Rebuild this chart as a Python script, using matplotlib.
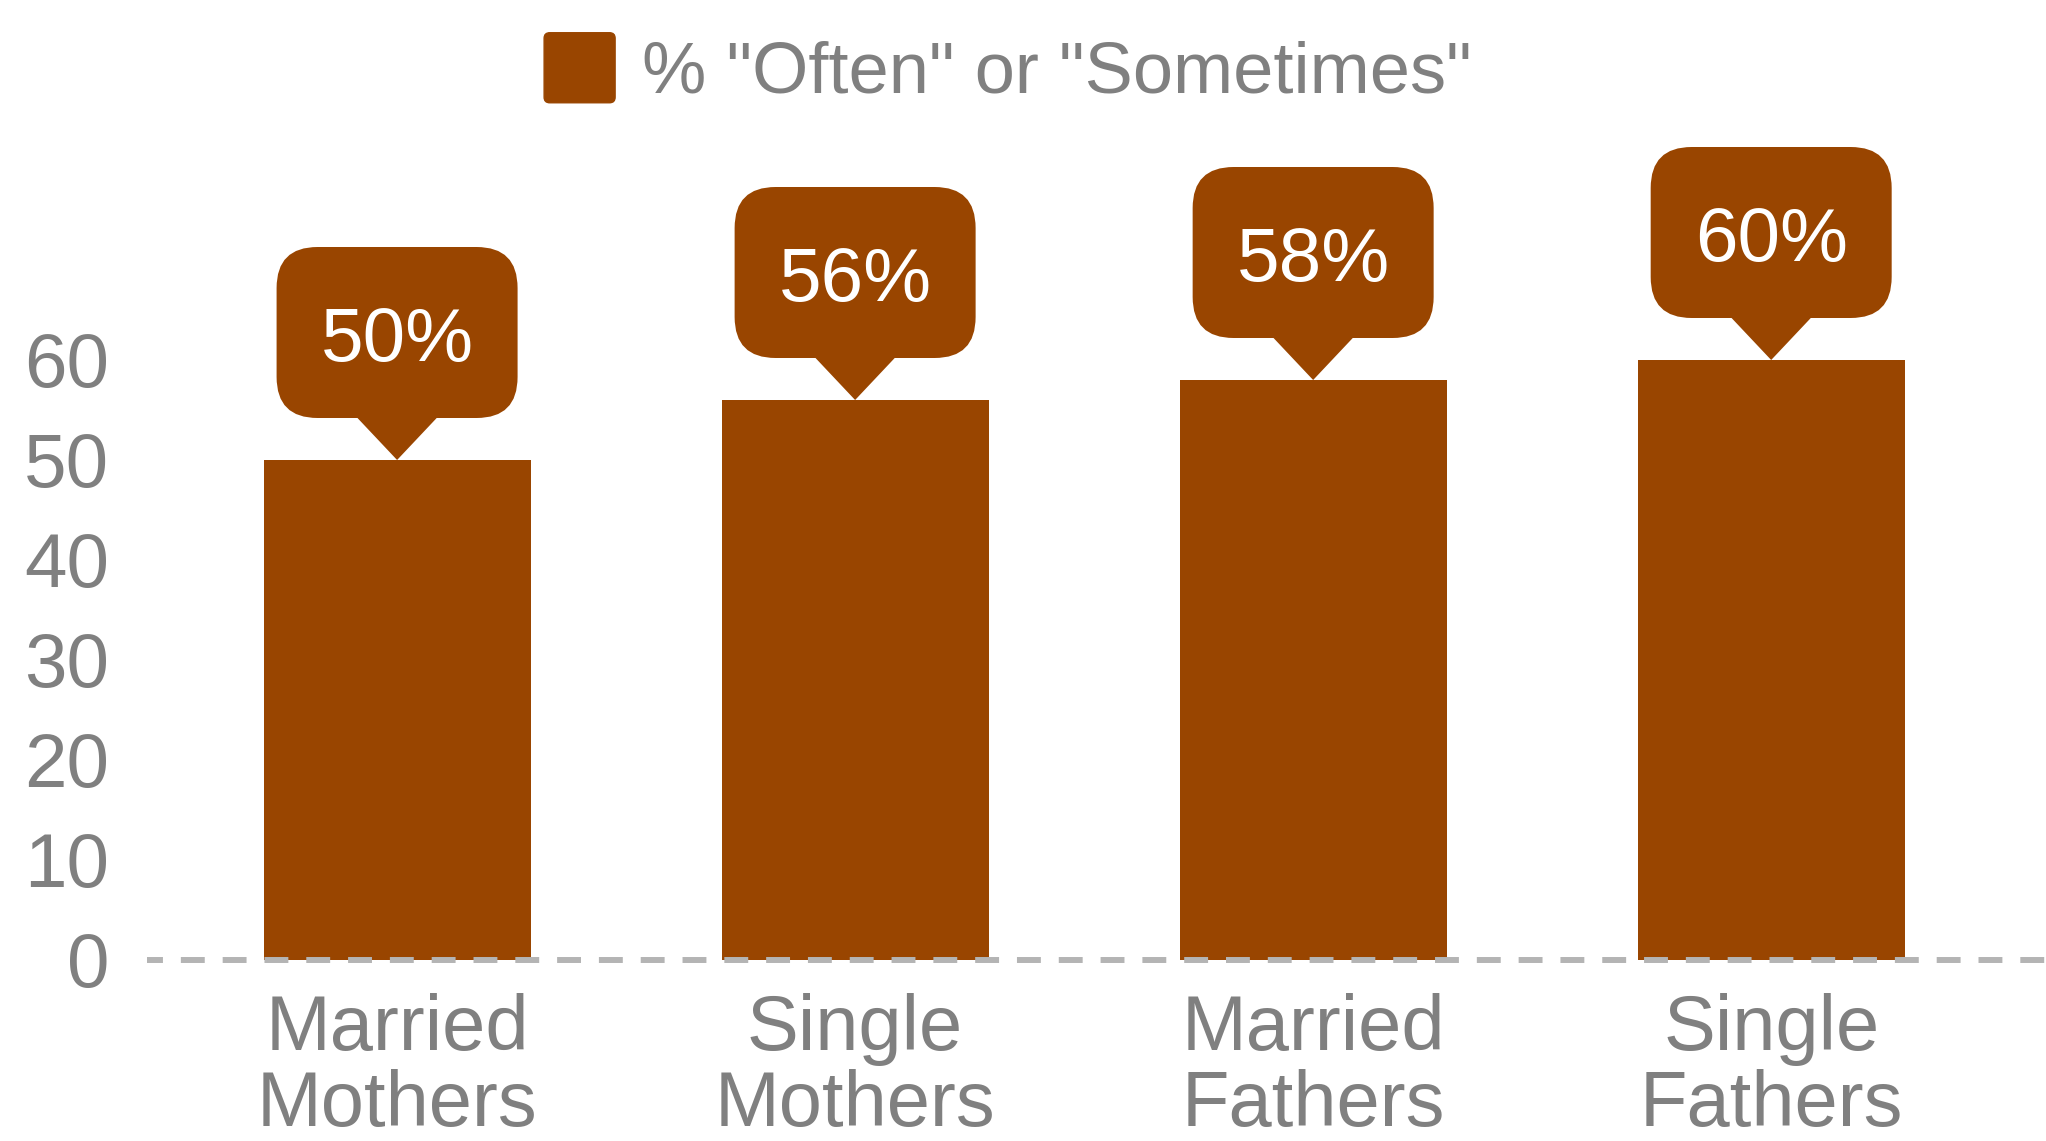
import matplotlib
matplotlib.use('Agg')
import matplotlib.pyplot as plt
import matplotlib.transforms as mtransforms
from matplotlib.patches import FancyBboxPatch, Polygon, Patch
from matplotlib.legend_handler import HandlerPatch

categories = ['Married\nMothers', 'Single\nMothers', 'Married\nFathers', 'Single\nFathers']
values = [50, 56, 58, 60]
yticks = [0, 10, 20, 30, 40, 50, 60]
series_name = '% "Often" or "Sometimes"'

BAR = '#994500'
GREY = '#808080'

plt.rcParams['font.family'] = ['Liberation Sans', 'DejaVu Sans']

fig = plt.figure(figsize=(20.46, 11.41), dpi=100)
ax = fig.add_axes([147 / 2046, 181 / 1141, 1 - 147 / 2046, 860 / 1141])

x = list(range(len(categories)))
bars = ax.bar(x, values, width=0.583, color=BAR, zorder=2)

ax.set_xlim(-0.546, 3.6)
ax.set_ylim(0, 86)
ax.set_yticks(yticks)
ax.set_xticks(x)
ax.set_xticklabels(categories, linespacing=1.05)
ax.tick_params(axis='y', length=0, pad=27, labelsize=55, labelcolor=GREY)
ax.tick_params(axis='x', length=0, pad=24, labelsize=56, labelcolor=GREY)
for s in ax.spines.values():
    s.set_visible(False)

# dashed zero line
ax.axhline(0, color='#b4b4b4', lw=4.3, ls=(1.33, (4, 3)), zorder=3, clip_on=False)

# speech-bubble labels, shape given in pixels at 100 dpi, anchored at bar top
px = fig.dpi / 100.0
for xi, v in zip(x, values):
    tr = mtransforms.Affine2D().scale(px) + mtransforms.ScaledTranslation(xi, v, ax.transData)
    box = FancyBboxPatch((-120.5, 42), 241, 171, boxstyle='round,pad=0,rounding_size=41',
                         fc=BAR, ec='none', transform=tr, clip_on=False, zorder=4)
    tip = Polygon([(-41.5, 44), (0, 0), (41.5, 44)], closed=True,
                  fc=BAR, ec='none', transform=tr, clip_on=False, zorder=4)
    ax.add_artist(box)
    ax.add_artist(tip)
    ax.annotate(f'{v}%', xy=(xi, v), xytext=(0, 71), textcoords='offset points',
                ha='center', va='baseline', fontsize=55, color='white', zorder=5)


def rounded_handle(legend, orig_handle, xdescent, ydescent, width, height, fontsize):
    return FancyBboxPatch((-xdescent, -ydescent), width, height,
                          boxstyle='round,pad=0,rounding_size=4')


fig.legend(handles=[Patch(color=BAR)], labels=[series_name],
           handler_map={Patch: HandlerPatch(patch_func=rounded_handle)},
           loc='center', bbox_to_anchor=(1008 / 2046, 1 - 70 / 1141), frameon=False,
           fontsize=52, labelcolor=GREY, handlelength=0.983, handleheight=1.115,
           handletextpad=0.374, borderpad=0, borderaxespad=0)

fig.savefig('out.png', dpi=100)
